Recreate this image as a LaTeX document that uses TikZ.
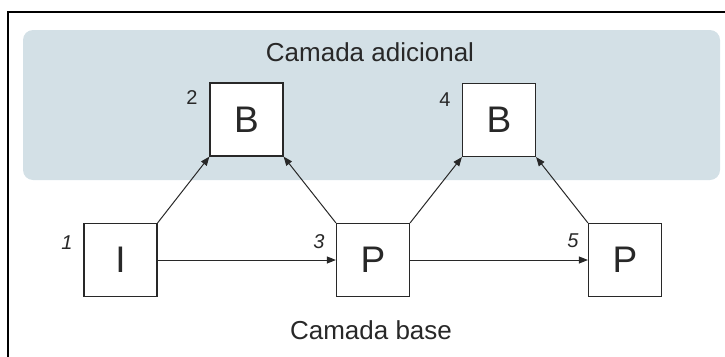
\documentclass[tikz,border=0pt]{standalone}
\usepackage{fontspec}
\setmainfont{Liberation Sans}
\usetikzlibrary{arrows.meta}
\definecolor{panelblue}{RGB}{211,224,230}
\definecolor{ink}{RGB}{40,40,40}
\begin{document}
\begin{tikzpicture}[x=1pt,y=-1pt,
  blk/.style={draw=ink, line width=1.2pt, fill=white, minimum width=73pt,
    minimum height=73pt, inner sep=0pt, text=ink,
    font=\fontsize{37}{37}\selectfont},
  num/.style={font=\fontsize{20}{20}\selectfont, text=ink, inner sep=0pt},
  link/.style={draw=ink, line width=1pt, -{Triangle[length=9pt,width=7pt]}},
  layer/.style={font=\fontsize{26}{26}\selectfont, text=ink, inner sep=0pt}]
\useasboundingbox (0,0) rectangle (725,356);
% shaded band of the upper layer
\fill[panelblue, rounded corners=10pt] (23,30) rectangle (720,180);
% outer frame
\draw[line width=2.2pt] (8,360) -- (8,12) -- (730,12);
% layer captions
\node[layer] (top) at (370,52) {Camada adicional};
\node[layer] (bot) at (371,330) {Camada base};
% blocks
\node[blk] (b2) at (246.5,119.5) {B};
\node[blk] (b4) at (499,120) {B};
\node[blk] (i1) at (120.5,260) {I};
\node[blk] (p3) at (373,260) {P};
\node[blk] (p5) at (625,260) {P};
% numbering
\node[num] (n1) at (67,243) {\itshape 1};
\node[num] (n2) at (192,98) {2};
\node[num] (n3) at (319,242) {\itshape 3};
\node[num] (n4) at (445,100) {4};
\node[num] (n5) at (573,241) {\itshape 5};
% references
\draw[link] (i1.north east) -- (b2.south west);
\draw[link] (p3.north west) -- (b2.south east);
\draw[link] (p3.north east) -- (b4.south west);
\draw[link] (p5.north west) -- (b4.south east);
\draw[link] (i1.east) -- (p3.west);
\draw[link] (p3.east) -- (p5.west);
\end{tikzpicture}
\end{document}
